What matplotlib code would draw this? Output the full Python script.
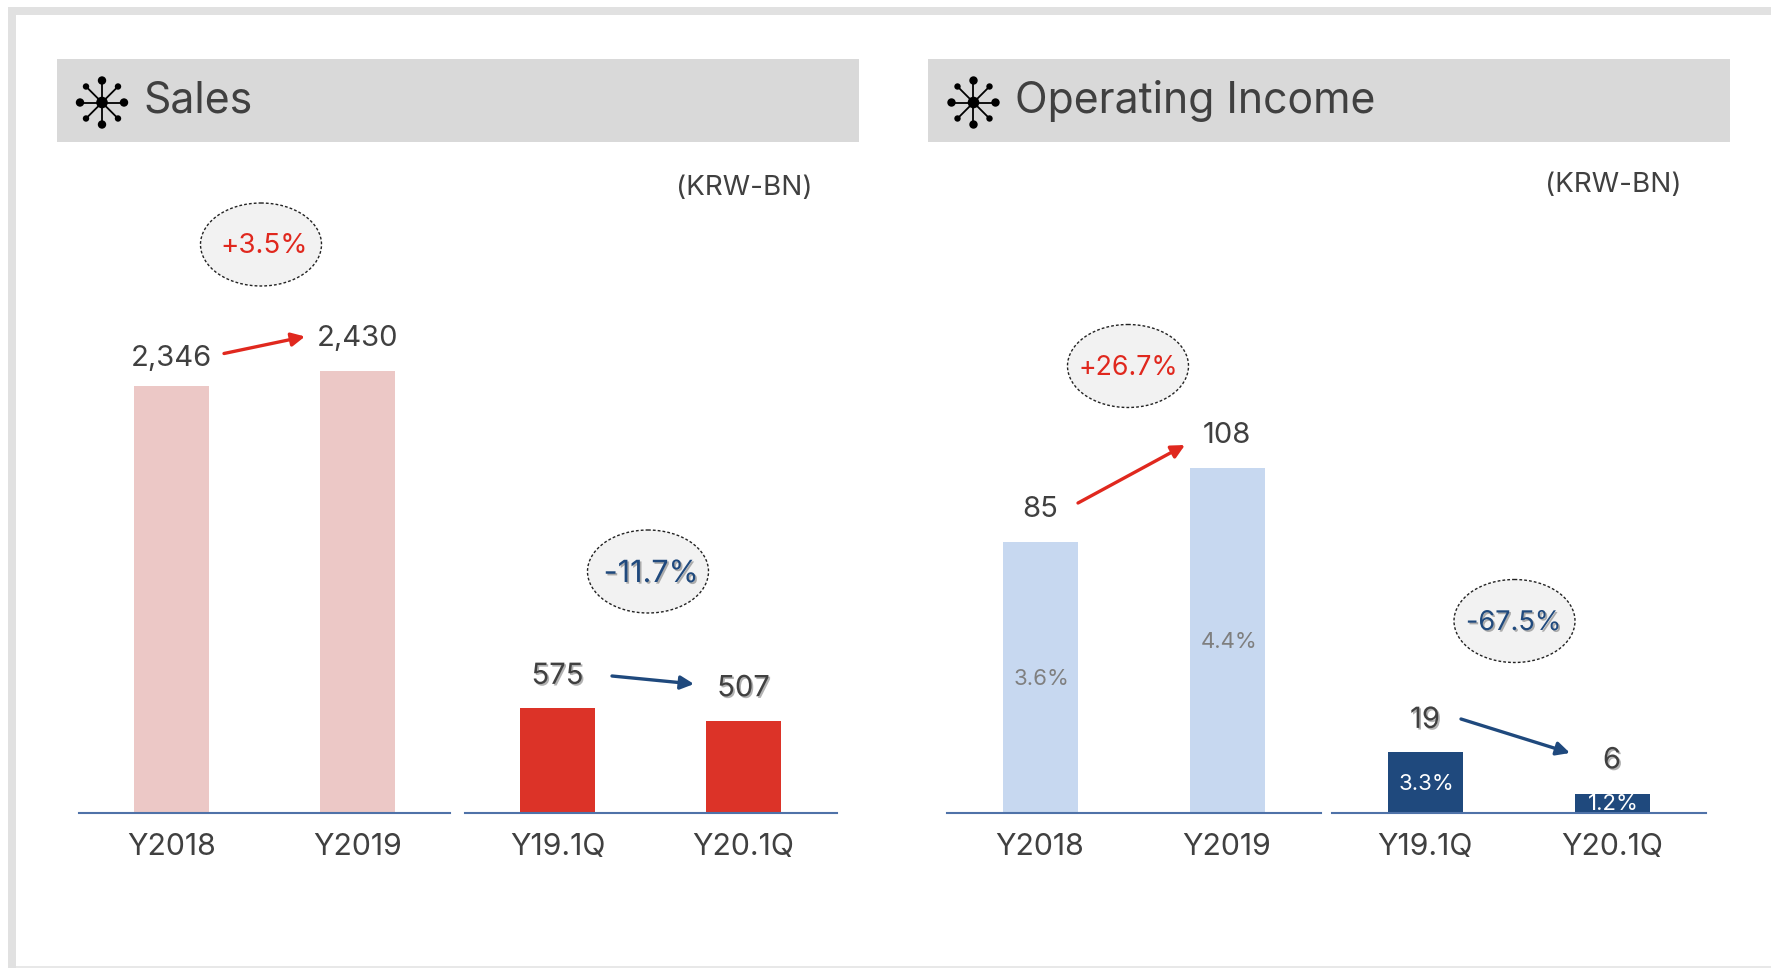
import matplotlib
matplotlib.use('Agg')
import matplotlib.pyplot as plt
import matplotlib.patheffects as pe
from matplotlib.patches import Rectangle, Ellipse, FancyArrowPatch, Circle
import numpy as np

plt.rcParams['font.family'] = ['Inter', 'DejaVu Sans']

# Data
annual_labels = ['Y2018', 'Y2019']
quarter_labels = ['Y19.1Q', 'Y20.1Q']
sales_annual = [2346, 2430]
sales_quarter = [575, 507]
income_annual = [85, 108]
income_quarter = [19, 6]
margin_annual = ['3.6%', '4.4%']
margin_quarter = ['3.3%', '1.2%']
growth_labels = ['+3.5%', '-11.7%', '+26.7%', '-67.5%']

W, H = 1771, 968
BASE = 813.0
AX_H = 700.0
TEXT = '#404040'
RED = '#E0281E'
NAVY = '#1F497D'

fig = plt.figure(figsize=(W / 100, H / 100), dpi=100, facecolor='white')


def panel(left, width, labels, values, color, ymax, offsets, shadow=False):
	ax = fig.add_axes([left / W, 1 - BASE / H, width / W, AX_H / H])
	ax.patch.set_alpha(0)
	x = np.arange(len(values))
	ax.bar(x, values, width=75 / (width / 2), color=color, zorder=2)
	ax.set_xlim(-0.5, 1.5)
	ax.set_ylim(0, ymax)
	ax.set_xticks(x, labels, fontsize=21.8, color=TEXT)
	ax.set_yticks([])
	ax.tick_params(axis='x', length=0, pad=30)
	for lab in ax.get_xticklabels():
		lab.set_va('baseline')
	for s in ['left', 'right', 'top']:
		ax.spines[s].set_visible(False)
	ax.spines['bottom'].set_color('#4F72A8')
	ax.spines['bottom'].set_linewidth(1.5)
	ax.spines['bottom'].set_zorder(3)
	for xi, v, off in zip(x, values, offsets):
		t = ax.annotate(f'{v:,}', (xi, v), xytext=(0, off), textcoords='offset pixels',
			ha='center', va='center', fontsize=21, color=TEXT)
		if shadow:
			t.set_path_effects([pe.withSimplePatchShadow(offset=(1.2, -1.2), shadow_rgbFace='#555555', alpha=0.45)])
	return ax


sales_max = AX_H / 0.182
income_max = AX_H / 3.19

panel(79, 371, annual_labels, sales_annual, '#ECC8C6', sales_max, [28, 32])
panel(464.5, 372, quarter_labels, sales_quarter, '#DC3328', sales_max, [32, 32], shadow=True)
ax3 = panel(946.5, 374, annual_labels, income_annual, '#C7D8F0', income_max, [32, 33])
ax4 = panel(1331.5, 374, quarter_labels, income_quarter, NAVY, income_max, [32, 33], shadow=True)

# labels inside the bars
for xi, v, s in zip([0, 1], [42, 53.5], margin_annual):
	ax3.text(xi + 0.01, v, s, ha='center', va='center', fontsize=16, color='#7F7F7F', zorder=4)
for xi, v, s in zip([0, 1], [9.2, 2.7], margin_quarter):
	ax4.text(xi + 0.01, v, s, ha='center', va='center', fontsize=16, color='white', zorder=4, clip_on=True)

# overlay in pixel coordinates for the page furniture
ov = fig.add_axes([0, 0, 1, 1], zorder=-1)
ov.set_xlim(0, W)
ov.set_ylim(H, 0)
ov.axis('off')
top = fig.add_axes([0, 0, 1, 1], zorder=5)
top.set_xlim(0, W)
top.set_ylim(H, 0)
top.axis('off')
top.patch.set_alpha(0)

ov.add_patch(Rectangle((8, 7), W - 8, 8, fc='#E1E1E1', ec='none'))
ov.add_patch(Rectangle((8, 7), 8, H - 7, fc='#E1E1E1', ec='none'))
ov.add_patch(Rectangle((16, 966), W - 16, 2, fc='#E8E8E8', ec='none'))


def header(x0, title, icon_x, text_dx):
	ov.add_patch(Rectangle((x0, 59), 802, 83, fc='#D9D9D9', ec='none'))
	cy = 102.5
	for dx, dy, r in [(22, 0, 4.2), (-22, 0, 4.2), (0, 22, 4.2), (0, -22, 4.2),
					  (16, 16, 3.2), (-16, 16, 3.2), (16, -16, 3.2), (-16, -16, 3.2)]:
		ov.plot([icon_x, icon_x + dx], [cy, cy + dy], color='black', lw=1.3)
		ov.add_patch(Circle((icon_x + dx, cy + dy), r, fc='black', ec='none'))
	ov.add_patch(Circle((icon_x, cy), 5.8, fc='black', ec='none'))
	ov.text(x0 + text_dx, 112.5, title, fontsize=30.8, color=TEXT, ha='left', va='baseline')


header(57, 'Sales', 102, 86)
header(928, 'Operating Income', 973.5, 87)

top.text(744, 188, '(KRW-BN)', fontsize=20, color=TEXT, ha='center', va='center')
top.text(1613, 184.5, '(KRW-BN)', fontsize=20, color=TEXT, ha='center', va='center')

# growth bubbles
bubbles_x = [261, 648, 1128, 1514.5]
bubbles_y = [244.5, 571.5, 366, 621]
text_x = [264.5, 651, 1128.5, 1513.5]
text_y = [246, 574, 368, 623]
text_size = [20, 22, 19.3, 19.5]
text_colors = [RED, NAVY, RED, NAVY]
for i, s in enumerate(growth_labels):
	top.add_patch(Ellipse((bubbles_x[i], bubbles_y[i]), 121, 83, fc='#F2F2F2', ec='#222222', lw=1.0, ls=(0, (2, 1.5))))
	t = top.text(text_x[i], text_y[i], s, fontsize=text_size[i], color=text_colors[i], ha='center', va='center')
	if text_colors[i] == NAVY:
		t.set_path_effects([pe.withSimplePatchShadow(offset=(1.2, -1.2), shadow_rgbFace='#555555', alpha=0.45)])

# growth arrows
arrows = [((224, 353.5), (305, 336.5), RED), ((612, 676), (694, 684), NAVY),
		  ((1078, 503), (1185, 445), RED), ((1461, 719), (1570, 753), NAVY)]
for a, b, c in arrows:
	top.add_patch(FancyArrowPatch(a, b, arrowstyle='-|>', mutation_scale=20, color=c, lw=2.4,
		shrinkA=0, shrinkB=0))

fig.savefig('out.png', dpi=100)
